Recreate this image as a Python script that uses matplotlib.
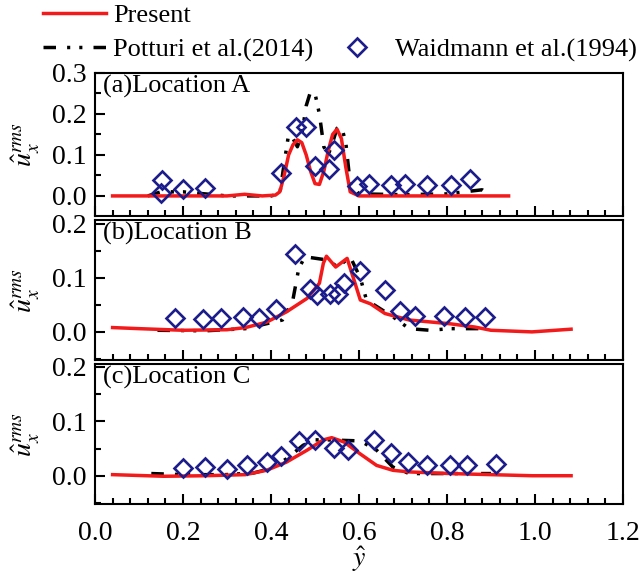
import matplotlib
matplotlib.use("Agg")
import matplotlib.pyplot as plt
from matplotlib.lines import Line2D
from matplotlib.ticker import MultipleLocator, FormatStrFormatter

plt.rcParams.update({
    "font.family": ["Liberation Serif", "DejaVu Serif"],
    "mathtext.fontset": "stix",
    "axes.linewidth": 1.5,
})

RED = "#f21a1a"
NAVY = "#1c1c8c"
POTTURI_DASH = (0, (3.6, 3.2, 0.9, 2.6, 0.9, 3.2))
LW = 2.5

# ---- Location A ----
a_present_x = [0.04, 0.30, 0.34, 0.38, 0.41, 0.42, 0.43, 0.44, 0.45, 0.46, 0.47, 0.48, 0.49, 0.50,
               0.51, 0.52, 0.53, 0.54, 0.55, 0.56, 0.57, 0.58, 0.60, 0.94]
a_present_y = [0.0, 0.0, 0.004, 0.0, 0.002, 0.01, 0.05, 0.10, 0.125, 0.137, 0.13, 0.10, 0.06, 0.03,
               0.028, 0.06, 0.11, 0.15, 0.163, 0.14, 0.07, 0.01, 0.0, 0.0]
a_potturi_x = [0.12, 0.15, 0.20, 0.25, 0.30, 0.35, 0.40, 0.42, 0.43, 0.44, 0.45, 0.46, 0.47, 0.48,
               0.49, 0.50, 0.51, 0.52, 0.53, 0.54, 0.55, 0.56, 0.57, 0.58, 0.60, 0.70, 0.80, 0.88, 0.90]
a_potturi_y = [0.0, 0.01, 0.01, 0.005, 0.0, 0.0, 0.0, 0.005, 0.08, 0.15, 0.14, 0.12, 0.15, 0.22,
               0.255, 0.25, 0.20, 0.12, 0.10, 0.13, 0.165, 0.17, 0.13, 0.03, 0.005, 0.003, 0.005, 0.015, 0.0]
a_exp_x = [0.152, 0.149, 0.201, 0.250, 0.422, 0.457, 0.479, 0.501, 0.532, 0.544, 0.596, 0.622,
           0.673, 0.704, 0.755, 0.808, 0.852]
a_exp_y = [0.039, 0.006, 0.018, 0.020, 0.057, 0.167, 0.167, 0.073, 0.065, 0.112, 0.024, 0.030,
           0.026, 0.028, 0.026, 0.026, 0.041]

# ---- Location B ----
b_present_x = [0.04, 0.10, 0.20, 0.30, 0.342, 0.39, 0.435, 0.482, 0.51, 0.519, 0.526, 0.547, 0.573,
               0.584, 0.603, 0.626, 0.659, 0.714, 0.807, 0.863, 0.90, 0.993, 1.082]
b_present_y = [0.008, 0.006, 0.003, 0.004, 0.008, 0.018, 0.037, 0.062, 0.09, 0.127, 0.14, 0.12, 0.136,
               0.108, 0.059, 0.052, 0.034, 0.022, 0.015, 0.009, 0.003, 0.0, 0.005]
b_potturi_x = [0.142, 0.25, 0.342, 0.426, 0.449, 0.463, 0.477, 0.528, 0.552, 0.58, 0.603, 0.617,
               0.677, 0.714, 0.761, 0.807, 0.882]
b_potturi_y = [0.003, 0.002, 0.006, 0.022, 0.056, 0.117, 0.139, 0.133, 0.12, 0.139, 0.10, 0.059,
               0.028, 0.006, 0.003, 0.006, 0.006]
b_exp_x = [0.181, 0.245, 0.287, 0.336, 0.373, 0.412, 0.454, 0.488, 0.505, 0.533, 0.552, 0.566,
           0.603, 0.659, 0.694, 0.728, 0.793, 0.842, 0.887]
b_exp_y = [0.026, 0.023, 0.026, 0.027, 0.026, 0.043, 0.145, 0.080, 0.068, 0.071, 0.071, 0.090,
           0.112, 0.077, 0.038, 0.029, 0.029, 0.028, 0.027]

# ---- Location C ----
c_present_x = [0.04, 0.156, 0.25, 0.342, 0.39, 0.435, 0.482, 0.519, 0.538, 0.566, 0.603, 0.64,
               0.677, 0.714, 0.807, 0.90, 0.993, 1.082]
c_present_y = [0.002, -0.001, 0.0, 0.002, 0.01, 0.025, 0.047, 0.066, 0.07, 0.062, 0.04, 0.019,
               0.01, 0.007, 0.004, 0.002, 0.0, 0.0]
c_potturi_x = [0.128, 0.203, 0.296, 0.36, 0.398, 0.435, 0.473, 0.50, 0.528, 0.603, 0.64, 0.677,
               0.714, 0.807, 0.90]
c_potturi_y = [0.004, 0.002, 0.002, 0.005, 0.013, 0.031, 0.056, 0.066, 0.066, 0.064, 0.047, 0.016,
               0.004, 0.004, 0.004]
c_exp_x = [0.200, 0.249, 0.299, 0.345, 0.391, 0.423, 0.464, 0.500, 0.544, 0.575, 0.635, 0.673,
           0.712, 0.754, 0.807, 0.845, 0.912]
c_exp_y = [0.014, 0.016, 0.013, 0.020, 0.026, 0.037, 0.063, 0.065, 0.051, 0.048, 0.065, 0.042,
           0.025, 0.019, 0.020, 0.020, 0.022]

panels = [
    ("(a)Location A", a_present_x, a_present_y, a_potturi_x, a_potturi_y, a_exp_x, a_exp_y,
     (-0.049, 0.30), [0.0, 0.1, 0.2, 0.3]),
    ("(b)Location B", b_present_x, b_present_y, b_potturi_x, b_potturi_y, b_exp_x, b_exp_y,
     (-0.052, 0.207), [0.0, 0.1, 0.2]),
    ("(c)Location C", c_present_x, c_present_y, c_potturi_x, c_potturi_y, c_exp_x, c_exp_y,
     (-0.052, 0.2055), [0.0, 0.1, 0.2]),
]

W, H = 642, 580
fig = plt.figure(figsize=(W / 100, H / 100), dpi=100)
boxes = [(73, 216), (220, 360), (364, 504)]
left, right = 95, 623

for i, (label, px, py, kx, ky, ex, ey, ylim, yticks) in enumerate(panels):
    top, bot = boxes[i]
    ax = fig.add_axes([left / W, (H - bot) / H, (right - left) / W, (bot - top) / H])
    ax.plot(kx, ky, color="black", lw=LW, ls=POTTURI_DASH, zorder=2)
    ax.plot(px, py, color=RED, lw=LW, zorder=3)
    ax.plot(ex, ey, ls="none", marker="D", ms=9.5, mfc="none", mec=NAVY, mew=1.9, zorder=4)
    ax.set_xlim(0.0, 1.2)
    ax.set_ylim(*ylim)
    ax.set_yticks(yticks)
    ax.yaxis.set_major_formatter(FormatStrFormatter("%.1f"))
    ax.yaxis.set_minor_locator(MultipleLocator(0.05))
    ax.xaxis.set_major_locator(MultipleLocator(0.2))
    ax.xaxis.set_minor_locator(MultipleLocator(0.04))
    ax.tick_params(which="both", direction="in", width=1.5, top=False, right=False, labelsize=20)
    ax.tick_params(which="major", length=7)
    ax.tick_params(which="minor", length=4)
    ax.tick_params(axis="y", pad=6)
    ax.tick_params(axis="x", pad=12)
    if i < 2:
        ax.tick_params(axis="x", labelbottom=False)
    else:
        ax.set_xlabel(r"$\hat{y}$", fontsize=20, labelpad=-1)
    ax.set_ylabel(r"$\hat{u}_x^{rms}$", fontsize=20)
    ax.yaxis.set_label_coords(-0.10, 0.5)
    ax.text(0.015, 1 - 13 / (bot - top), label, transform=ax.transAxes, fontsize=19,
            ha="left", va="center")

h_present = Line2D([], [], color=RED, lw=LW)
h_potturi = Line2D([], [], color="black", lw=LW, ls=POTTURI_DASH)
h_blank = Line2D([], [], color="none")
h_exp = Line2D([], [], ls="none", marker="D", ms=9.5, mfc="none", mec=NAVY, mew=1.9)
fig.legend([h_present, h_potturi, h_blank, h_exp],
           ["Present", "Potturi et al.(2014)", "", "Waidmann et al.(1994)"],
           ncol=2, frameon=False, fontsize=19, loc="upper left",
           bbox_to_anchor=(43 / W, 1 - 4 / H), borderpad=0, borderaxespad=0,
           handlelength=2.4, handletextpad=0.25, columnspacing=0.45, labelspacing=0.4)

fig.savefig("out.png", dpi=100)
